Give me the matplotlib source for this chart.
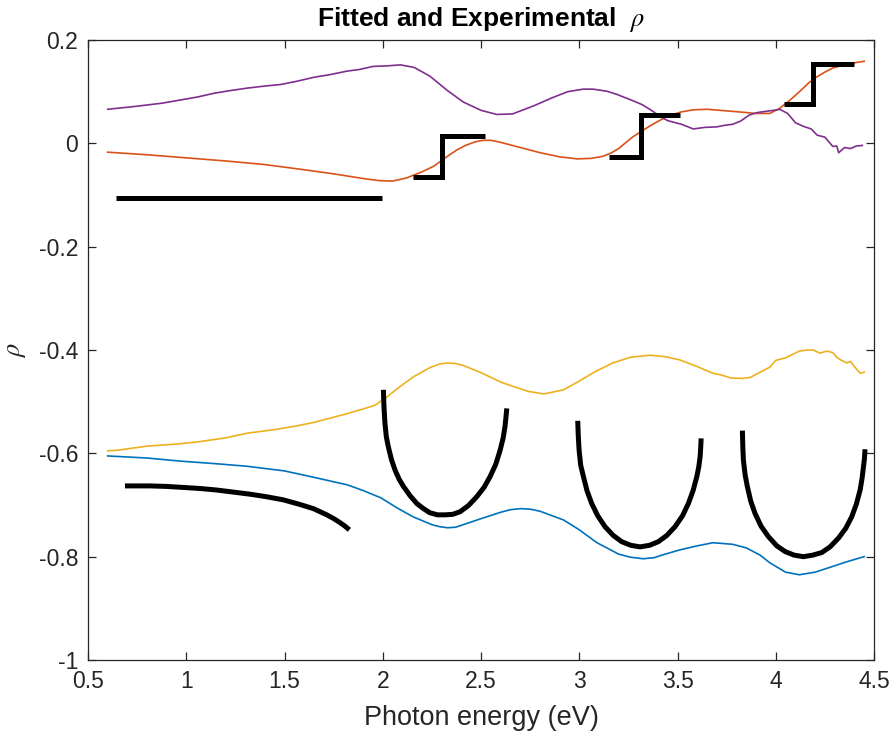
import matplotlib
matplotlib.use("Agg")
import matplotlib.pyplot as plt
from matplotlib.ticker import FuncFormatter

# ---------------- data ----------------
purple_x = [0.60, 0.75, 0.88, 0.97, 1.06, 1.14, 1.22, 1.31, 1.40, 1.48, 1.56, 1.65, 1.73, 1.82, 1.88, 1.95, 2.02, 2.09,
            2.16, 2.24, 2.33, 2.41, 2.50, 2.58, 2.66, 2.77, 2.86, 2.94, 3.02, 3.07, 3.14, 3.19, 3.27, 3.32, 3.375,
            3.41, 3.45, 3.52, 3.58, 3.64, 3.70, 3.74, 3.78, 3.82, 3.865, 3.91, 3.95, 3.99, 4.02, 4.06, 4.10, 4.14,
            4.18, 4.21, 4.25, 4.29, 4.31, 4.32, 4.35, 4.38, 4.41, 4.44]
purple_y = [0.066, 0.072, 0.078, 0.084, 0.090, 0.097, 0.102, 0.107, 0.111, 0.114, 0.120, 0.128, 0.133, 0.140, 0.143, 0.149,
            0.150, 0.152, 0.147, 0.130, 0.102, 0.080, 0.064, 0.056, 0.057, 0.073, 0.088, 0.100, 0.105, 0.105, 0.101,
            0.095, 0.083, 0.075, 0.062, 0.052, 0.044, 0.037, 0.028, 0.031, 0.032, 0.035, 0.037, 0.043, 0.055, 0.060,
            0.062, 0.064, 0.066, 0.058, 0.040, 0.033, 0.028, 0.016, 0.012, -0.006, -0.005, -0.018, -0.008, -0.010,
            -0.005, -0.004]

orange_x = [0.60, 0.80, 1.00, 1.20, 1.40, 1.58, 1.75, 1.90, 1.98, 2.05, 2.12, 2.20, 2.26, 2.30, 2.34, 2.38, 2.42,
            2.47, 2.51, 2.55, 2.60, 2.70, 2.80, 2.90, 2.99, 3.06, 3.12, 3.16, 3.20, 3.27, 3.36, 3.45, 3.52, 3.58,
            3.65, 3.78, 3.90, 3.97, 4.02, 4.07, 4.12, 4.17, 4.21, 4.25, 4.29, 4.35, 4.40, 4.45]
orange_y = [-0.017, -0.022, -0.028, -0.034, -0.041, -0.050, -0.059, -0.068, -0.072, -0.073, -0.067, -0.055, -0.044,
            -0.033, -0.022, -0.012, -0.004, 0.003, 0.006, 0.006, 0.002, -0.008, -0.018, -0.026, -0.030, -0.029,
            -0.025, -0.019, -0.010, 0.012, 0.034, 0.053, 0.061, 0.065, 0.066, 0.062, 0.058, 0.058, 0.068, 0.083,
            0.100, 0.118, 0.129, 0.138, 0.146, 0.152, 0.156, 0.159]

yellow_x = [0.60, 0.65, 0.80, 0.95, 1.055, 1.20, 1.31, 1.45, 1.56, 1.65, 1.73, 1.82, 1.90, 1.96, 2.02, 2.09, 2.155,
            2.24, 2.29, 2.33, 2.37, 2.41, 2.495, 2.60, 2.66, 2.74, 2.82, 2.92, 3.00, 3.08, 3.17, 3.26, 3.36, 3.44,
            3.51, 3.60, 3.68, 3.72, 3.77, 3.83, 3.87, 3.935, 3.97, 4.00, 4.05, 4.12, 4.16, 4.19, 4.225, 4.26, 4.29,
            4.31, 4.33, 4.36, 4.38, 4.40, 4.43, 4.45]
yellow_y = [-0.595, -0.594, -0.586, -0.582, -0.578, -0.570, -0.561, -0.554, -0.547, -0.540, -0.532, -0.523, -0.514,
            -0.507, -0.491, -0.470, -0.452, -0.434, -0.427, -0.425, -0.426, -0.430, -0.443, -0.462, -0.470, -0.480,
            -0.485, -0.477, -0.460, -0.442, -0.425, -0.414, -0.410, -0.413, -0.419, -0.432, -0.445, -0.448, -0.454,
            -0.455, -0.453, -0.440, -0.433, -0.420, -0.415, -0.402, -0.400, -0.400, -0.406, -0.402, -0.405, -0.414,
            -0.419, -0.425, -0.422, -0.432, -0.445, -0.443]

blue_x = [0.60, 0.80, 0.97, 1.15, 1.31, 1.50, 1.645, 1.75, 1.82, 1.90, 1.99, 2.07, 2.155, 2.25, 2.29, 2.33, 2.37,
          2.41, 2.495, 2.60, 2.65, 2.70, 2.75, 2.80, 2.92, 3.00, 3.09, 3.20, 3.26, 3.325, 3.38, 3.42, 3.51, 3.60,
          3.68, 3.78, 3.85, 3.92, 3.97, 4.05, 4.12, 4.20, 4.28, 4.36, 4.43, 4.45]
blue_y = [-0.605, -0.609, -0.615, -0.620, -0.625, -0.634, -0.646, -0.655, -0.661, -0.672, -0.686, -0.705, -0.723,
          -0.738, -0.742, -0.744, -0.743, -0.738, -0.727, -0.714, -0.709, -0.707, -0.708, -0.712, -0.729, -0.748,
          -0.773, -0.795, -0.801, -0.804, -0.802, -0.797, -0.787, -0.779, -0.773, -0.776, -0.783, -0.797, -0.812,
          -0.830, -0.835, -0.830, -0.820, -0.810, -0.802, -0.800]

# Black model curves (thick)
flat_x = [0.642, 1.996]
flat_y = [-0.106, -0.106]

step1_x = [2.154, 2.30, 2.52]
step1_y = [-0.065, 0.014, 0.014]
step2_x = [3.15, 3.314, 3.51]
step2_y = [-0.026, 0.054, 0.054]
step3_x = [4.04, 4.19, 4.40]
step3_y = [0.076, 0.154, 0.154]

arc_x = [0.688, 0.816, 0.900, 0.985, 1.070, 1.155, 1.240, 1.324, 1.409, 1.494, 1.579, 1.647, 1.715, 1.749, 1.782,
         1.808, 1.830]
arc_y = [-0.663, -0.663, -0.664, -0.666, -0.668, -0.671, -0.675, -0.679, -0.684, -0.690, -0.699, -0.707, -0.719,
         -0.726, -0.734, -0.741, -0.748]

u1_x = [2.003, 2.006, 2.011, 2.018, 2.028, 2.044, 2.062, 2.083, 2.105, 2.139, 2.173, 2.207, 2.240, 2.278, 2.317,
        2.356, 2.393, 2.436, 2.478, 2.515, 2.546, 2.575, 2.597, 2.612, 2.622, 2.627, 2.631]
u1_y = [-0.477, -0.510, -0.542, -0.568, -0.587, -0.612, -0.632, -0.650, -0.664, -0.682, -0.697, -0.707, -0.715,
        -0.719, -0.719, -0.718, -0.713, -0.701, -0.684, -0.666, -0.645, -0.621, -0.594, -0.571, -0.548, -0.529,
        -0.513]

u2_x = [2.992, 2.995, 2.999, 3.007, 3.021, 3.039, 3.063, 3.094, 3.131, 3.173, 3.216, 3.262, 3.309, 3.357, 3.402,
        3.445, 3.487, 3.525, 3.555, 3.579, 3.598, 3.608, 3.615, 3.618, 3.620]
u2_y = [-0.537, -0.568, -0.594, -0.623, -0.645, -0.672, -0.697, -0.721, -0.742, -0.759, -0.771, -0.778, -0.781,
        -0.778, -0.771, -0.759, -0.742, -0.721, -0.697, -0.672, -0.645, -0.626, -0.606, -0.587, -0.571]

u3_x = [3.830, 3.832, 3.835, 3.844, 3.855, 3.872, 3.894, 3.925, 3.962, 4.005, 4.047, 4.093, 4.140, 4.188, 4.234,
        4.276, 4.319, 4.356, 4.386, 4.410, 4.429, 4.439, 4.446, 4.451, 4.454]
u3_y = [-0.556, -0.587, -0.613, -0.642, -0.664, -0.692, -0.716, -0.741, -0.761, -0.779, -0.790, -0.797, -0.800,
        -0.797, -0.792, -0.781, -0.764, -0.745, -0.723, -0.698, -0.671, -0.648, -0.626, -0.610, -0.592]

x_ticks = [0.5, 1, 1.5, 2, 2.5, 3, 3.5, 4, 4.5]
y_ticks = [-1, -0.8, -0.6, -0.4, -0.2, 0, 0.2]

title_text = r"Fitted and Experimental  $\rho$"
xlabel_text = "Photon energy (eV)"
ylabel_text = r"$\rho$"

# ---------------- plot ----------------
plt.rcParams['font.family'] = ['Liberation Sans', 'DejaVu Sans']
plt.rcParams['axes.unicode_minus'] = False
plt.rcParams['mathtext.fontset'] = 'stix'

fig = plt.figure(figsize=(8.91, 7.42), dpi=100)
ax = fig.add_axes([0.0988, 0.1105, 0.8822, 0.8355])

c_blue, c_orange, c_yellow, c_purple = '#0072BD', '#D95319', '#EDB120', '#7E2F8E'
lw_c = 1.2
lw_k = 3.6

ckw = dict(lw=lw_c, solid_joinstyle='round')
ax.plot(blue_x, blue_y, color=c_blue, **ckw)
ax.plot(orange_x, orange_y, color=c_orange, **ckw)
ax.plot(yellow_x, yellow_y, color=c_yellow, **ckw)
ax.plot(purple_x, purple_y, color=c_purple, **ckw)

skw = dict(color='black', lw=lw_k, solid_capstyle='butt', solid_joinstyle='miter')
ax.plot(flat_x, flat_y, **skw)
for sx, sy in [(step1_x, step1_y), (step2_x, step2_y), (step3_x, step3_y)]:
    ax.plot([sx[0], sx[1], sx[1], sx[2]], [sy[0], sy[0], sy[1], sy[2]], **skw)

kkw = dict(color='black', lw=lw_k, solid_capstyle='butt', solid_joinstyle='round')
ax.plot(arc_x, arc_y, **kkw)
ax.plot(u1_x, u1_y, **kkw)
ax.plot(u2_x, u2_y, **kkw)
ax.plot(u3_x, u3_y, **kkw)

ax.set_xlim(0.5, 4.5)
ax.set_ylim(-1, 0.2)
ax.set_xticks(x_ticks)
ax.set_yticks(y_ticks)
ax.xaxis.set_major_formatter(FuncFormatter(lambda v, p: f"{v:g}"))
ax.yaxis.set_major_formatter(FuncFormatter(lambda v, p: f"{v:g}"))

for s in ax.spines.values():
    s.set_color('#262626')
    s.set_linewidth(0.9)
ax.tick_params(direction='in', length=6, width=0.9, color='#262626', labelsize=16.5,
               top=True, right=True, labelcolor='#262626', pad=7)

ax.set_title(title_text, fontsize=19, fontweight='bold', pad=10)
ax.set_xlabel(xlabel_text, fontsize=19.5, color='#262626', labelpad=9)
ax.set_ylabel(ylabel_text, fontsize=19, color='#262626', labelpad=8)

fig.savefig('out.png', dpi=100)
